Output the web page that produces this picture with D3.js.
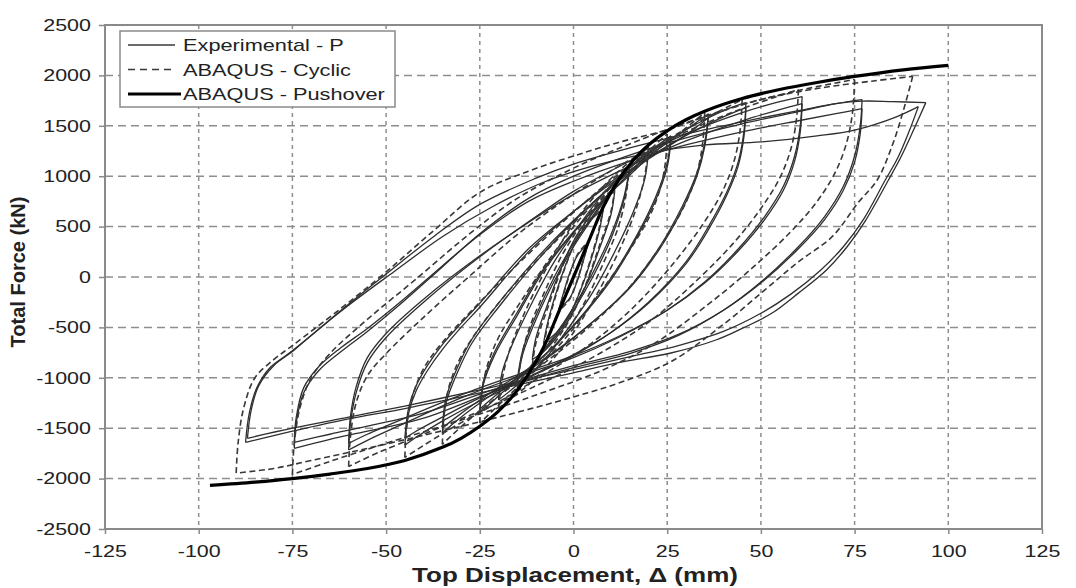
<!DOCTYPE html>
<html>
<head>
<meta charset="utf-8">
<script src="https://cdn.jsdelivr.net/npm/d3@7"></script>
<style>
  body { margin: 0; background: #fff; }
  svg text { font-family: "Liberation Sans", Arial, sans-serif; fill: #222; }
</style>
</head>
<body>
<svg width="1076" height="588"></svg>
<script>
// tick values
const xTicks = [-125, -100, -75, -50, -25, 0, 25, 50, 75, 100, 125]
const yTicks = [-2500, -2000, -1500, -1000, -500, 0, 500, 1000, 1500, 2000, 2500]

// each cycle = [reloading branch, unloading branch], points are [mm, kN]
// Experimental - P
const exp4 = [[[-4,-330],[-3,-200],[-1,40],[1,210],[3,300],[4,340]],
              [[4,340],[3,210],[1,-40],[-1,-210],[-3,-290],[-4,-330]]]
const exp8 = [[[-8,-660],[-7,-470],[-5,-200],[-2,130],[1,380],[4,540],[8,680]],
              [[8,680],[7,480],[5,210],[2,-120],[-1,-370],[-4,-530],[-8,-660]]]
const exp11 = [[[-11,-820],[-10,-600],[-7,-280],[-3,120],[1,420],[5,630],[8,760],[11,850]],
               [[11,850],[10,620],[7,290],[3,-110],[-1,-410],[-5,-620],[-8,-740],[-11,-820]]]
const exp15 = [[[-15,-1060],[-13.5,-760],[-10,-420],[-5,-30],[0,300],[5,580],[10,850],[15,1100]],
               [[15,1100],[13.5,800],[10,420],[5,30],[0,-300],[-5,-580],[-10,-820],[-15,-1060]]]
const exp15b = [[[-15,-1020],[-13.5,-720],[-10,-380],[-5,10],[0,330],[5,600],[10,860],[15,1070]],
                [[15,1070],[13.5,770],[10,380],[5,-10],[0,-330],[-5,-600],[-10,-830],[-15,-1020]]]
const exp20 = [[[-20,-1220],[-19,-940],[-16,-640],[-11,-250],[-5,160],[2,540],[8,830],[14,1060],[20,1250]],
               [[20,1250],[19,970],[16,650],[11,250],[5,-160],[-2,-540],[-8,-830],[-14,-1040],[-20,-1220]]]
const exp25 = [[[-25,-1350],[-24,-1060],[-21,-770],[-15,-380],[-8,60],[0,440],[8,770],[15,1030],[21,1260],[26,1400]],
               [[26,1400],[25,1130],[22,800],[17,420],[10,-10],[3,-350],[-5,-680],[-12,-920],[-20,-1180],[-25,-1350]]]
const exp25b = [[[-25,-1310],[-24,-1030],[-21,-740],[-15,-350],[-8,80],[0,450],[8,770],[15,1010],[21,1220],[26,1360]],
                [[26,1360],[25,1090],[22,770],[17,400],[10,-30],[3,-360],[-5,-680],[-12,-910],[-20,-1150],[-25,-1310]]]
const exp35 = [[[-35,-1550],[-34,-1250],[-31,-950],[-27,-650],[-20,-300],[-10,150],[0,550],[10,900],[20,1200],[30,1460],[36,1620]],
               [[36,1620],[35,1330],[33,1040],[29,700],[23,300],[15,-100],[5,-450],[-5,-750],[-15,-1000],[-25,-1250],[-32,-1450],[-35,-1550]]]
const exp35b = [[[-35,-1500],[-34,-1200],[-31,-900],[-27,-610],[-20,-260],[-10,180],[0,560],[10,890],[20,1170],[30,1410],[36,1580]],
                [[36,1580],[35,1290],[33,1010],[29,670],[23,280],[15,-110],[5,-450],[-5,-740],[-15,-980],[-25,-1220],[-32,-1410],[-35,-1500]]]
const exp45 = [[[-45,-1670],[-44,-1350],[-42,-1130],[-39,-930],[-35,-720],[-30,-500],[-25,-300],[-12,250],[0,650],[12,1000],[25,1350],[35,1560],[42,1680],[46,1730]],
               [[46,1730],[45.5,1450],[44,1150],[41,850],[36,500],[30,150],[20,-250],[10,-550],[0,-780],[-12,-1000],[-25,-1230],[-35,-1430],[-42,-1590],[-45,-1670]]]
const exp45b = [[[-45,-1600],[-44,-1300],[-42,-1080],[-39,-880],[-35,-670],[-30,-460],[-25,-260],[-12,280],[0,650],[12,980],[25,1300],[35,1500],[42,1620],[46,1680]],
                [[46,1680],[45.5,1400],[44,1110],[41,820],[36,470],[30,130],[20,-260],[10,-550],[0,-770],[-12,-990],[-25,-1200],[-35,-1390],[-42,-1530],[-45,-1600]]]
const exp60 = [[[-60,-1716],[-59.5,-1450],[-58,-1150],[-55,-850],[-50,-600],[-40,-250],[-25,200],[-10,600],[0,850],[15,1150],[30,1420],[45,1630],[55,1740],[61,1790]],
               [[61,1790],[60.5,1500],[59,1200],[56,900],[51,600],[44,280],[35,-50],[25,-330],[12,-600],[0,-800],[-15,-990],[-30,-1200],[-45,-1450],[-55,-1620],[-60,-1716]]]
const exp60b = [[[-60,-1650],[-59.5,-1380],[-58,-1090],[-55,-800],[-50,-560],[-40,-220],[-25,210],[-10,590],[0,820],[15,1100],[30,1350],[45,1550],[55,1660],[61,1720]],
                [[61,1720],[60.5,1440],[59,1150],[56,860],[51,570],[44,260],[35,-60],[25,-330],[12,-590],[0,-780],[-15,-970],[-30,-1170],[-45,-1400],[-55,-1560],[-60,-1650]]]
const exp75 = [[[-74.5,-1700],[-74,-1450],[-72,-1150],[-68,-930],[-62,-740],[-55,-540],[-45,-230],[-35,100],[-25,430],[-12,780],[0,1000],[15,1210],[30,1380],[45,1520],[60,1640],[70,1720],[77,1760]],
               [[77,1760],[76.5,1500],[75,1200],[72,900],[67,600],[60,300],[50,-50],[40,-330],[28,-580],[15,-760],[0,-900],[-20,-1120],[-40,-1400],[-55,-1530],[-65,-1610],[-74.5,-1700]]]
const exp75b = [[[-74.5,-1640],[-74,-1400],[-72,-1100],[-68,-890],[-62,-700],[-55,-510],[-45,-210],[-35,110],[-25,420],[-12,750],[0,950],[15,1150],[30,1310],[45,1440],[60,1550],[70,1620],[77,1670]],
                [[77,1670],[76.5,1420],[75,1140],[72,860],[67,570],[60,280],[50,-60],[40,-330],[28,-570],[15,-740],[0,-880],[-20,-1100],[-40,-1350],[-55,-1480],[-65,-1560],[-74.5,-1640]]]
const exp90 = [[[-87.5,-1640],[-86.5,-1350],[-84.5,-1100],[-81,-900],[-76,-760],[-70,-580],[-62,-330],[-50,30],[-37,410],[-25,720],[-10,980],[0,1120],[15,1280],[30,1420],[45,1540],[60,1650],[70,1720],[77,1745],[85,1740],[94,1730]],
               [[94,1730],[91,1480],[87.5,1200],[84,960],[78,565],[73,300],[67.5,70],[60,-160],[53,-357],[45,-510],[38,-625],[26,-754],[12,-850],[0,-950],[-15,-1070],[-30,-1190],[-45,-1305],[-61,-1415],[-75,-1530],[-87.5,-1640]]]
const exp90b = [[[-87,-1600],[-86,-1320],[-84,-1080],[-80,-880],[-75,-740],[-70,-580],[-60,-280],[-48,50],[-35,400],[-22,690],[-8,940],[5,1100],[20,1230],[35,1310],[50,1340],[65,1400],[75,1458],[86,1587],[92,1690]],
                [[92,1690],[89.5,1440],[86.5,1180],[83,950],[77.5,580],[72,300],[66,70],[58,-170],[50,-360],[40,-540],[28,-680],[14,-800],[0,-920],[-15,-1040],[-30,-1160],[-45,-1280],[-60,-1390],[-75,-1500],[-87,-1600]]]

// ABAQUS - Cyclic
const cyc4 = [[[-4,-345],[-3,-215],[-1,30],[1,220],[3,315],[4,350]],
              [[4,350],[3,220],[1,-30],[-1,-220],[-3,-305],[-4,-345]]]
const cyc8 = [[[-8,-690],[-7,-500],[-5,-220],[-2,120],[1,390],[4,560],[8,700]],
              [[8,700],[7,510],[5,230],[2,-110],[-1,-380],[-4,-550],[-8,-690]]]
const cyc11 = [[[-11,-880],[-10,-650],[-7,-320],[-3,100],[1,420],[5,650],[8,790],[11,880]],
               [[11,880],[10,650],[7,320],[3,-100],[-1,-420],[-5,-650],[-8,-790],[-11,-880]]]
const cyc15 = [[[-15,-1100],[-14,-820],[-12,-530],[-8,-170],[-3,220],[3,570],[9,850],[15,1110]],
               [[15,1110],[14,810],[12,500],[8,140],[3,-250],[-3,-600],[-9,-870],[-15,-1100]]]
const cyc20 = [[[-20,-1300],[-19,-1010],[-17,-720],[-13,-350],[-7,100],[0,530],[7,860],[13,1080],[20,1290]],
               [[20,1290],[19,1000],[17,710],[13,330],[7,-120],[0,-550],[-7,-880],[-13,-1100],[-20,-1300]]]
const cyc25 = [[[-25,-1450],[-24.5,-1160],[-23,-880],[-20,-600],[-14,-240],[-6,200],[2,590],[10,910],[18,1180],[25,1420]],
               [[25,1420],[24.5,1130],[23,860],[20,580],[14,210],[6,-210],[-2,-600],[-10,-920],[-18,-1200],[-25,-1450]]]
const cyc35 = [[[-35,-1660],[-34.5,-1360],[-33,-1060],[-30,-790],[-24,-450],[-14,0],[-3,420],[8,830],[20,1200],[28,1420],[35,1630]],
               [[35,1630],[34.5,1340],[33,1040],[30,740],[24,350],[15,-100],[4,-500],[-8,-860],[-20,-1180],[-28,-1420],[-35,-1660]]]
const cyc45 = [[[-45,-1790],[-44.5,-1490],[-43,-1190],[-40,-910],[-35,-650],[-25,-250],[-12,230],[0,640],[12,1020],[25,1360],[35,1570],[45,1760]],
               [[45,1760],[44.5,1470],[43,1170],[40,870],[35,550],[27,150],[16,-300],[5,-650],[-8,-970],[-20,-1240],[-33,-1510],[-45,-1790]]]
const cyc60 = [[[-60,-1880],[-59.5,-1580],[-58,-1250],[-55,-980],[-50,-760],[-40,-400],[-28,0],[-15,420],[0,820],[15,1160],[30,1440],[45,1670],[60,1860]],
               [[60,1860],[59.5,1570],[58,1270],[55,980],[50,680],[43,350],[33,-30],[20,-450],[5,-800],[-10,-1080],[-25,-1330],[-40,-1560],[-52,-1740],[-60,-1880]]]
const cyc75 = [[[-75,-1960],[-74.5,-1650],[-73,-1300],[-70,-1000],[-65,-760],[-55,-420],[-42,-20],[-28,420],[-15,780],[0,1080],[15,1320],[30,1530],[45,1710],[60,1850],[75,1960]],
               [[75,1960],[74.5,1650],[73,1350],[70,1050],[65,750],[58,450],[48,100],[36,-270],[22,-650],[8,-920],[-10,-1170],[-30,-1420],[-50,-1650],[-65,-1830],[-75,-1960]]]
const cyc90 = [[[-90,-1945],[-89.5,-1650],[-88,-1300],[-85,-1000],[-80,-820],[-75,-680],[-62,-310],[-50,50],[-37,470],[-25,840],[-12,1050],[0,1200],[12,1335],[25,1460],[35,1590],[50,1760],[65,1870],[80,1945],[90.5,1990]],
               [[90.5,1990],[88,1650],[85,1300],[81,960],[76,740],[69,400],[60,150],[51,-130],[40,-470],[26,-840],[13,-1040],[0,-1190],[-20,-1390],[-40,-1570],[-55,-1700],[-70,-1820],[-80,-1900],[-90,-1945]]]

// ABAQUS - Pushover (both directions)
const pushover = [[-97,-2068],[-85,-2035],[-75,-2000],[-65,-1955],[-55,-1900],[-45,-1820],[-35,-1690],[-30,-1600],
                  [-25,-1480],[-20,-1330],[-16,-1170],[-12,-960],[-8,-700],[-4,-350],[0,0],[4,350],[8,700],
                  [12,960],[16,1160],[20,1310],[25,1450],[30,1560],[35,1645],[45,1770],[55,1860],[65,1930],
                  [75,1990],[88,2055],[100,2100]]

const experimental = [exp4, exp8, exp11, exp15, exp15b, exp20, exp25, exp25b, exp35, exp35b, exp45, exp45b,
                      exp60, exp60b, exp75, exp75b, exp90, exp90b]
const cyclic = [cyc4, cyc8, cyc11, cyc15, cyc20, cyc25, cyc35, cyc45, cyc60, cyc75, cyc90]

const legendNames = ["Experimental - P", "ABAQUS - Cyclic", "ABAQUS - Pushover"]

const svg = d3.select("svg")
const x = d3.scaleLinear().domain([-125, 125]).range([105, 1042])
const y = d3.scaleLinear().domain([-2500, 2500]).range([529, 25])

// grid
svg.append("g").selectAll("line")
  .data(xTicks.slice(1, -1)).enter().append("line")
  .attr("x1", d => x(d)).attr("x2", d => x(d))
  .attr("y1", y(2500)).attr("y2", y(-2500))
  .attr("stroke", "#8e8e8e").attr("stroke-width", 1.5).attr("stroke-dasharray", "4,4")
svg.append("g").selectAll("line")
  .data(yTicks.slice(1, -1)).enter().append("line")
  .attr("y1", d => y(d)).attr("y2", d => y(d))
  .attr("x1", x(-125)).attr("x2", x(125))
  .attr("stroke", "#8e8e8e").attr("stroke-width", 1.5).attr("stroke-dasharray", "8,5")

// frame
svg.append("rect")
  .attr("x", x(-125)).attr("y", y(2500))
  .attr("width", x(125) - x(-125)).attr("height", y(-2500) - y(2500))
  .attr("fill", "none").attr("stroke", "#8a8a8a").attr("stroke-width", 2)

// axes
const yAxis = svg.append("g").attr("transform", `translate(${x(-125)},0)`)
  .call(d3.axisLeft(y).tickValues(yTicks).tickSize(6).tickFormat(d => String(d)))
yAxis.select(".domain").remove()
yAxis.selectAll("line").attr("stroke", "#8a8a8a").attr("stroke-width", 1.5)
yAxis.selectAll("text").attr("x", -10.8).attr("transform", "scale(1.3,1)")
  .style("font-size", "16.5px").attr("fill", "#222")

const xAxis = svg.append("g").attr("transform", `translate(0,${y(-2500)})`)
  .call(d3.axisBottom(x).tickValues(xTicks).tickSize(5).tickFormat(d => String(d)))
xAxis.select(".domain").remove()
xAxis.selectAll("line").attr("stroke", "#8a8a8a").attr("stroke-width", 1.5)
xAxis.selectAll("text").attr("y", 16).attr("transform", "scale(1.3,1)")
  .style("font-size", "16.5px").attr("fill", "#222")

// curves
const line = d3.line().x(d => x(d[0])).y(d => y(d[1])).curve(d3.curveCatmullRom.alpha(0.5))

svg.append("g").selectAll("path")
  .data(experimental.flat(1)).enter().append("path")
  .attr("d", line).attr("fill", "none")
  .attr("stroke", "#2e2e2e").attr("stroke-width", 1.3)

svg.append("g").selectAll("path")
  .data(cyclic.flat(1)).enter().append("path")
  .attr("d", line).attr("fill", "none")
  .attr("stroke", "#383838").attr("stroke-width", 1.6).attr("stroke-dasharray", "6,3.5")

svg.append("path").datum(pushover)
  .attr("d", line).attr("fill", "none")
  .attr("stroke", "#000").attr("stroke-width", 3.2)

// axis titles
svg.append("text")
  .attr("transform", "translate(575,582) scale(1.3,1)")
  .attr("text-anchor", "middle")
  .style("font-size", "20px").style("font-weight", "bold")
  .text("Top Displacement, \u0394 (mm)")
svg.append("text")
  .attr("transform", "translate(25,272) rotate(-90)")
  .attr("text-anchor", "middle")
  .style("font-size", "20px").style("font-weight", "bold")
  .text("Total Force (kN)")

// legend
const legend = svg.append("g")
legend.append("rect")
  .attr("x", 120).attr("y", 31).attr("width", 275).attr("height", 76)
  .attr("fill", "#fff").attr("stroke", "#8a8a8a").attr("stroke-width", 1.5)
const entries = legend.selectAll("g.entry").data(legendNames).enter()
  .append("g").attr("class", "entry")
  .attr("transform", (d, i) => `translate(0,${45 + i * 24.5})`)
entries.append("line")
  .attr("x1", 128).attr("x2", (d, i) => i == 2 ? 181 : 175)
  .attr("stroke", (d, i) => i == 2 ? "#000" : "#383838")
  .attr("stroke-width", (d, i) => [1.3, 1.6, 3.2][i])
  .attr("stroke-dasharray", (d, i) => i == 1 ? "7,5" : null)
entries.append("text")
  .attr("transform", "translate(183,6) scale(1.28,1)")
  .style("font-size", "17px")
  .text(d => d)
</script>
</body>
</html>
